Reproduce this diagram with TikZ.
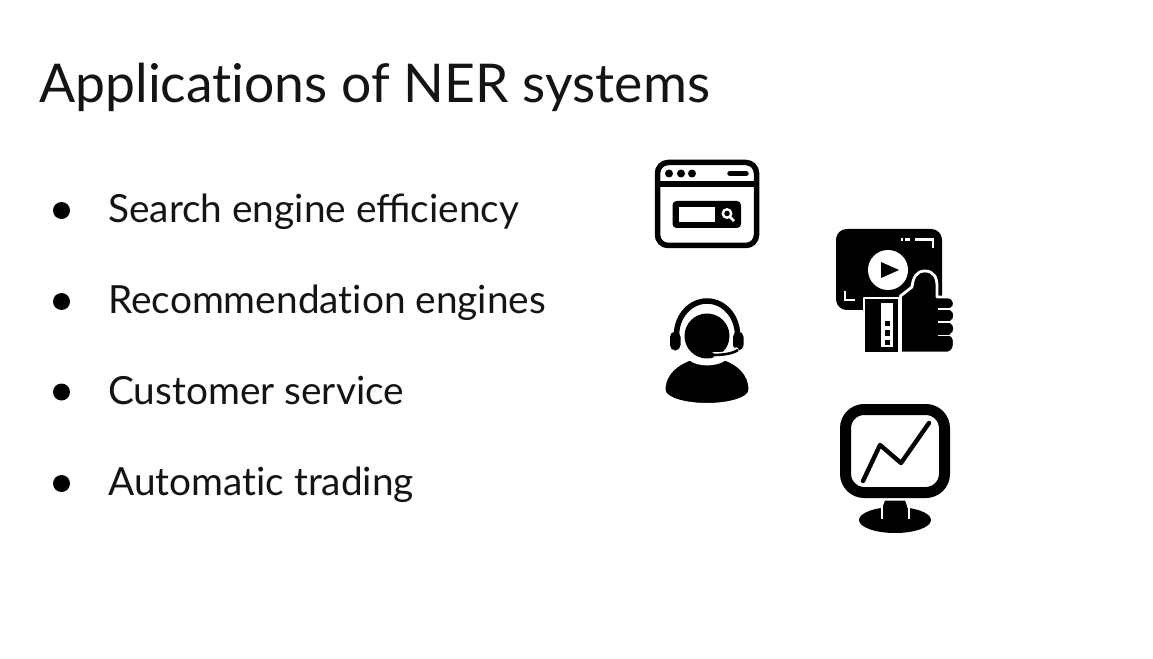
\documentclass[tikz,border=0pt]{standalone}
\usepackage{fontspec}
\setmainfont{Lato}
\definecolor{ink}{RGB}{20,20,20}

\tikzset{
  slidetitle/.style={anchor=base west, inner sep=0pt, text=ink, font=\fontsize{40.1}{47}\selectfont},
  itemtext/.style={anchor=base west, inner sep=0pt, text=ink, font=\fontsize{29.1}{35}\selectfont},
  iconline/.style={draw=black, line join=round, line cap=round},
  cutline/.style={draw=white, line join=round},
}

\begin{document}
\begin{tikzpicture}[x=0.75pt, y=-0.75pt]

% ── Page ─────────────────────────────────────────────────────────────
\def\pxw{0.75pt}
\useasboundingbox (0,0) rectangle (1153,659);
\fill[white] (0,0) rectangle (1153,659);

% ── Title ────────────────────────────────────────────────────────────
\node[slidetitle] (title) at (39,103) {Applicat\kern0pt ions of NER systems};

% ── Macro to draw one list row ───────────────────────────────────────
% #1=node name, #2=y of baseline, #3=text
\newcommand{\itemrow}[3]{%
  \fill[black] (61.5,#2-12) circle (8.5);
  \node[itemtext] (#1) at (108,#2) {#3};
}

\itemrow{search}{222.5}{Search engine efficiency}
\itemrow{recommend}{313.5}{Recommendat\kern0pt ion engines}
\itemrow{customer}{404}{Customer service}
\itemrow{trading}{495.5}{Automat\kern0pt ic trading}

% ── Browser icon ─────────────────────────────────────────────────────
\draw[black, line width=5.5*\pxw, rounded corners=8] (657.5,162.5) rectangle (756.5,245.5);
\fill[black] (657,181.5) rectangle (757,187);
\foreach \dotx in {669,681,692} {
  \fill[black] (\dotx,173.5) circle (4);
}
\draw[iconline, line width=5.5*\pxw] (730,173.5) -- (746,173.5);
\fill[black, rounded corners=3] (672.5,201) rectangle (741,228);
\fill[white] (679,207) rectangle (714.5,222);
\draw[white, line width=2.4*\pxw] (727,213.5) circle (4.2);
\draw[white, line width=2.8*\pxw] (730,217) -- (734,221);

% ── Video and thumb icon ─────────────────────────────────────────────
\fill[black, rounded corners=8] (836,229) rectangle (942,310);
\fill[white] (888,270) circle (20);
\fill[black] (881,262) -- (899,270) -- (881,278) -- cycle;
\draw[white, line width=2.6*\pxw] (915,239.5) -- (933,239.5) -- (933,248);
\draw[white, line width=2.6*\pxw] (910,239.5) -- (905,239.5);
\fill[white] (900.5,238) rectangle (903,241);
\draw[white, line width=2.6*\pxw] (845,291) -- (845,300) -- (855,300);
% hand
\filldraw[black, cutline, line width=2.8*\pxw]
  (900.5,353) -- (900.5,296) -- (912,287)
  .. controls (913,278) and (916,271) .. (925,271)
  .. controls (934,271) and (937,278) .. (937,286)
  -- (937,297) -- (948,297)
  .. controls (956,297) and (956,308) .. (951,309)
  .. controls (956,311) and (956,320) .. (951,322)
  .. controls (956,324) and (956,333) .. (951,335)
  .. controls (956,337) and (956,352) .. (948,353)
  -- cycle;
\draw[white, line width=1.8*\pxw] (938,309) -- (953,309);
\draw[white, line width=1.8*\pxw] (938,322) -- (953,322);
\draw[white, line width=1.8*\pxw] (938,335.5) -- (953,335.5);
% sleeve
\filldraw[black, cutline, line width=2.6*\pxw] (864,298) rectangle (899.5,353);
\fill[white] (881,303) rectangle (893,347);
\foreach \doty in {324,333,342} {
  \fill[black] (884.5,\doty-2.5) rectangle (889.5,\doty+2.5);
}
\fill[white] (860,351.5) rectangle (960,356);

% ── Customer service icon ────────────────────────────────────────────
\fill[black] (707,336) circle (22.5);
\draw[black, line width=5.5*\pxw] (676.5,335) arc[start angle=180, end angle=360, x radius=30.5, y radius=34];
\fill[black, rounded corners=4] (670,331.5) rectangle (680.5,350.5);
\fill[black, rounded corners=4] (733,331.5) rectangle (743.5,350.5);
\filldraw[black, cutline, line width=2*\pxw]
  (664.5,390)
  .. controls (664.5,373) and (678,364) .. (690,359.5)
  .. controls (697,366) and (717,366) .. (725,359.5)
  .. controls (737,364) and (749.5,373) .. (749.5,390)
  .. controls (749.5,398) and (730,404) .. (707,404)
  .. controls (684,404) and (664.5,398) .. (664.5,390) -- cycle;
\draw[white, line width=5.5*\pxw, line cap=round] (712,355) .. controls (722,355) and (732,354) .. (736,350);
\draw[black, line width=2.6*\pxw] (712,355) .. controls (722,355) and (732,354) .. (738,350);
\fill[black] (711,355) circle (3.2);

% ── Monitor icon ─────────────────────────────────────────────────────
\draw[black, line width=11*\pxw, rounded corners=14] (845.5,409.5) rectangle (944.5,492.5);
\draw[iconline, line width=4.4*\pxw] (863,481) -- (880,445) -- (901,463) -- (929,423);
\fill[black] (895,520) ellipse (36 and 13);
\fill[black] (885,500.5) -- (905,500.5) -- (907,506) -- (907,522) -- (883,522) -- (883,506) -- cycle;
\draw[white, line width=2*\pxw] (881.5,506) -- (881.5,518.5);
\draw[white, line width=2*\pxw] (908.5,506) -- (908.5,518.5);

\end{tikzpicture}
\end{document}
